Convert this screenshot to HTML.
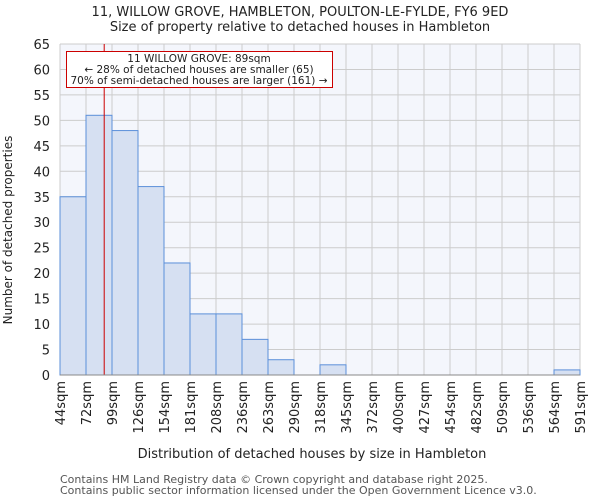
<!DOCTYPE html>
<html><head><meta charset="utf-8"><style>
body{margin:0;background:#fff;font-family:"DejaVu Sans","Liberation Sans",sans-serif}
</style></head><body>
<svg width="600" height="500" xmlns="http://www.w3.org/2000/svg" font-family="DejaVu Sans, Liberation Sans, sans-serif">
<text x="300" y="16" text-anchor="middle" font-size="13" fill="#222">11, WILLOW GROVE, HAMBLETON, POULTON-LE-FYLDE, FY6 9ED</text>
<text x="300" y="31" text-anchor="middle" font-size="13" fill="#222">Size of property relative to detached houses in Hambleton</text>
<rect x="60" y="44" width="520" height="331" fill="#f4f6fc"/>
<g id="grid"></g>
<g id="bars"></g>
<g id="axes"></g>
<text transform="translate(12,230) rotate(-90)" text-anchor="middle" font-size="12" fill="#222">Number of detached properties</text>
<text x="312" y="458" text-anchor="middle" font-size="13" fill="#222">Distribution of detached houses by size in Hambleton</text>
<text x="60" y="483" font-size="11" fill="#555">Contains HM Land Registry data © Crown copyright and database right 2025.</text>
<text x="60" y="494" font-size="11" fill="#555">Contains public sector information licensed under the Open Government Licence v3.0.</text>
</svg>
<script>
const categories=["44sqm","72sqm","99sqm","126sqm","154sqm","181sqm","208sqm","236sqm","263sqm","290sqm","318sqm","345sqm","372sqm","400sqm","427sqm","454sqm","482sqm","509sqm","536sqm","564sqm","591sqm"];
const counts=[35,51,48,37,22,12,12,7,3,0,2,0,0,0,0,0,0,0,0,1];
const yTicks=[0,5,10,15,20,25,30,35,40,45,50,55,60,65];
const markerIndex=1.7;
const NS="http://www.w3.org/2000/svg";
const X0=60,X1=580,Y0=375,Y1=44,YMAX=65;
const xs=i=>X0+(X1-X0)*i/counts.length;
const ys=v=>Y0-(Y0-Y1)*v/YMAX;
function mk(t,a,p){const e=document.createElementNS(NS,t);for(const k in a)e.setAttribute(k,a[k]);p.appendChild(e);return e;}
const grid=document.getElementById('grid'),bars=document.getElementById('bars'),axes=document.getElementById('axes');
yTicks.forEach(v=>{
 const l=mk('line',{x1:X0,x2:X1,y1:ys(v),y2:ys(v),stroke:'#ccc','stroke-width':1},grid);
 
 
 const t=mk('text',{x:X0-10,y:ys(v)+5,'text-anchor':'end','font-size':13,fill:'#222'},axes);
 t.textContent=v;
 
 
});
categories.forEach((c,i)=>{
 const l=mk('line',{x1:xs(i),x2:xs(i),y1:Y1,y2:Y0,stroke:'#ccc','stroke-width':1},grid);
 
 
 const t=mk('text',{transform:`translate(${xs(i)+5},381) rotate(-90)`,'text-anchor':'end','font-size':13,fill:'#222'},axes);
 t.textContent=c;
 
 
});
counts.forEach((v,i)=>{
 if(v<=0)return;
 const r=mk('rect',{x:xs(i),y:ys(v),width:xs(i+1)-xs(i),height:Y0-ys(v),fill:'#d6e0f2',stroke:'#5b8fd9','stroke-width':1},bars);
 
 
});
const ml=mk('line',{x1:xs(markerIndex),x2:xs(markerIndex),y1:Y1,y2:Y0,stroke:'#c00','stroke-width':1},bars);


const ax=mk('line',{x1:X0,x2:X1,y1:Y0,y2:Y0,stroke:'#888','stroke-width':1},axes);


const g=mk('g',{},axes);


mk('rect',{x:66.5,y:51.5,width:266,height:36,fill:'#fff',stroke:'#c00','stroke-width':1},g);
["11 WILLOW GROVE: 89sqm","← 28% of detached houses are smaller (65)","70% of semi-detached houses are larger (161) →"].forEach((s,i)=>{
 const t=mk('text',{x:199,y:62+i*11,'text-anchor':'middle','font-size':10.5,fill:'#222'},g);
 t.textContent=s;
 
 
});
</script>
</body></html>
